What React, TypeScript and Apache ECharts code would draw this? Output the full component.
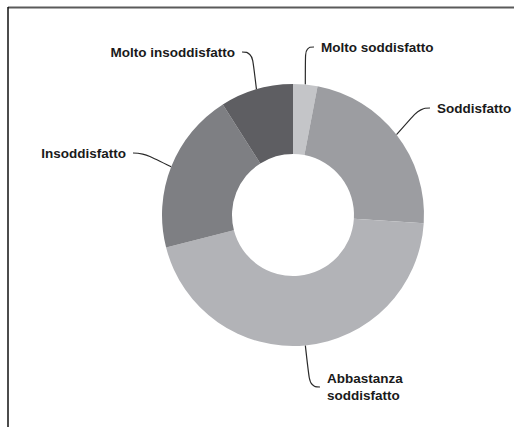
import React, { useEffect, useRef } from "react";
import * as echarts from "echarts";

const categories = [
  "Molto soddisfatto",
  "Soddisfatto",
  "Abbastanza soddisfatto",
  "Insoddisfatto",
  "Molto insoddisfatto",
];
const displayLabels = [
  "Molto soddisfatto",
  "Soddisfatto",
  "Abbastanza\nsoddisfatto",
  "Insoddisfatto",
  "Molto insoddisfatto",
];
const values = [3, 23, 45, 20, 9];
const colors = ["#c4c5c8", "#9c9da1", "#b2b3b7", "#7e7f83", "#5e5e62"];

// label placement (layout, px in chart coordinates of the text edge)
const LABEL_PAD = 7;
const LABEL_LAYOUT = [
  { x: 321, y: 47, align: "left" },
  { x: 437, y: 108, align: "left" },
  { x: 327, y: 387, align: "left" },
  { x: 126, y: 153, align: "right" },
  { x: 235, y: 52, align: "right" },
];

export default function App() {
  const ref = useRef<HTMLDivElement>(null);
  useEffect(() => {
    document.body.style.margin = "0";
    if (!ref.current) return;
    const chart = echarts.init(ref.current, undefined, { renderer: "svg" });
    chart.setOption({
      animation: false,
      backgroundColor: "#ffffff",
      graphic: [
        {
          type: "line",
          shape: { x1: 8, y1: 7.5, x2: 514, y2: 7.5 },
          style: { stroke: "#5a5a5a", lineWidth: 2 },
          z: 10,
        },
        {
          type: "line",
          shape: { x1: 8, y1: 7, x2: 8, y2: 427 },
          style: { stroke: "#111111", lineWidth: 1.5 },
          z: 10,
        },
      ],
      series: [
        {
          type: "pie",
          center: [293, 215],
          radius: [61, 131],
          startAngle: 90,
          clockwise: true,
          data: categories.map((name, i) => ({
            name,
            value: values[i],
            itemStyle: { color: colors[i] },
            label: {
              padding:
                LABEL_LAYOUT[i].align === "left"
                  ? [0, 0, 0, LABEL_PAD]
                  : [0, LABEL_PAD, 0, 0],
            },
          })),
          label: {
            show: true,
            formatter: (p: any) => displayLabels[p.dataIndex],
            fontFamily: "Liberation Sans, Arial, sans-serif",
            fontWeight: "bold",
            fontSize: 13.5,
            lineHeight: 17,
            color: "#1a1a1a",
            overflow: "none",
          },
          labelLine: {
            show: true,
            smooth: 0.5,
            length: 14,
            length2: 10,
            lineStyle: { color: "#2a2a2a", width: 1.2 },
          },
          labelLayout: (params: any) => {
            const l = LABEL_LAYOUT[params.dataIndex];
            return {
              x: l.align === "left" ? l.x - LABEL_PAD : l.x + LABEL_PAD,
              y: l.y,
              align: l.align,
              verticalAlign: "middle",
            };
          },
          emphasis: { disabled: true },
        },
      ],
    });
    return () => chart.dispose();
  }, []);
  return <div ref={ref} style={{ width: 514, height: 427 }} />;
}
